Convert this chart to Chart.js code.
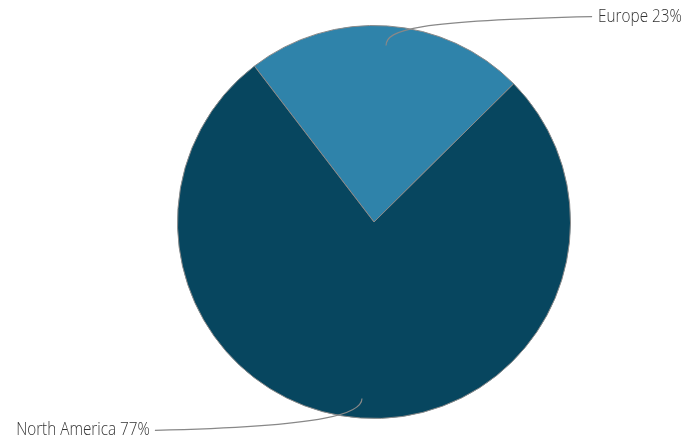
<!DOCTYPE html>
<html>
<head>
<meta charset="utf-8">
<script src="https://cdn.jsdelivr.net/npm/chart.js@4/dist/chart.umd.min.js"></script>
<style>
  html, body { margin: 0; padding: 0; background: #fff; }
  #wrap { width: 694px; height: 444px; }
</style>
</head>
<body>
<div id="wrap"><canvas id="chart"></canvas></div>
<script>
// datos del gráfico
const regions = ["Europe", "North America"];
const shares = [23, 77];
const sliceColors = ["#2f83aa", "#07465f"];

// etiquetas con línea curva, como en el original
const leaderLabels = {
  id: "leaderLabels",
  afterDatasetsDraw(chart) {
    const { ctx } = chart;
    const arcs = chart.getDatasetMeta(0).data;
    ctx.save();
    ctx.font = "300 18px 'Open Sans', 'Roboto', sans-serif";
    ctx.fillStyle = "#333";
    ctx.strokeStyle = "#888";
    ctx.lineWidth = 1.2;
    ctx.textBaseline = "middle";
    arcs.forEach((arc, i) => {
      const { x, y, startAngle, endAngle, outerRadius } = arc.getProps(["x", "y", "startAngle", "endAngle", "outerRadius"], true);
      const mid = (startAngle + endAngle) / 2;
      const sx = x + Math.cos(mid) * outerRadius * 0.9;
      const sy = y + Math.sin(mid) * outerRadius * 0.9;
      const up = Math.sin(mid) < 0;
      const right = up;
      const ex = x + (right ? 1.11 : -1.115) * outerRadius;
      const ey = y + (up ? -1.045 : 1.06) * outerRadius;
      ctx.beginPath();
      ctx.moveTo(sx, sy);
      if (up) {
        ctx.bezierCurveTo(sx, sy - 16, sx + 30, ey + 4, ex, ey);
      } else {
        ctx.bezierCurveTo(sx, sy + 14, sx - 30, ey - 4, ex, ey);
      }
      ctx.stroke();
      const text = regions[i] + " " + shares[i] + "%";
      // texto estrecho: se comprime en horizontal
      const squeeze = 0.85;
      const tx = ex + (right ? 6 : -5);
      ctx.save();
      ctx.translate(tx, ey);
      ctx.scale(squeeze, 1);
      ctx.textAlign = right ? "left" : "right";
      ctx.fillText(text, 0, 0);
      ctx.restore();
    });
    ctx.restore();
  }
};

new Chart(document.getElementById("chart"), {
  type: "pie",
  data: {
    labels: regions,
    datasets: [{
      data: shares,
      backgroundColor: sliceColors,
      borderColor: "#8a8a8a",
      borderWidth: 1,
    }],
  },
  options: {
    responsive: true,
    maintainAspectRatio: false,
    animation: false,
    rotation: -37.5,
    layout: { padding: { top: 25, bottom: 25, left: 54, right: 0 } },
    plugins: {
      legend: { display: false },
      tooltip: { enabled: false },
    },
  },
  plugins: [leaderLabels],
});
</script>
</body>
</html>
